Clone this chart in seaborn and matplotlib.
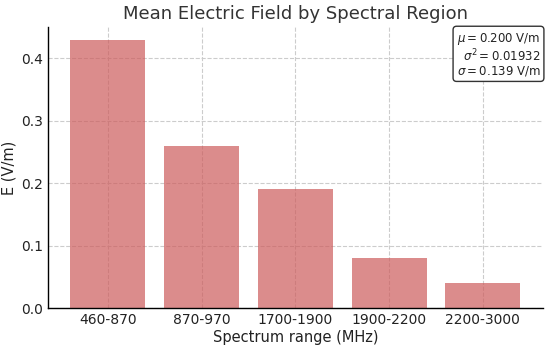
import matplotlib
matplotlib.use("Agg")
import matplotlib.pyplot as plt
import seaborn as sns
import pandas as pd

bands = ["460-870", "870-970", "1700-1900", "1900-2200", "2200-3000"]
e_field = [0.43, 0.26, 0.19, 0.08, 0.04]

df = pd.DataFrame({"band": bands, "E": e_field})
mu = df["E"].mean()
var = df["E"].var(ddof=0)
sd = var ** 0.5

sns.set_style("whitegrid", {"grid.linestyle": "--", "grid.color": "#cccccc"})
plt.rcParams["font.family"] = ["DejaVu Sans"]

fig, ax = plt.subplots(figsize=(5.5, 3.47), dpi=100)
sns.barplot(data=df, x="band", y="E", color="indianred", alpha=0.7,
            width=0.8, saturation=1, linewidth=0, ax=ax)
ax.set_xlim(-0.64, 4.64)
ax.set_ylim(0, 0.45)
ax.set_yticks([0, 0.1, 0.2, 0.3, 0.4])
ax.xaxis.grid(True, linestyle="--", color="#cccccc")
ax.yaxis.grid(True, linestyle="--", color="#cccccc")
ax.set_title("Mean Electric Field by Spectral Region", fontsize=13, color="#333333", pad=6)
ax.set_xlabel("Spectrum range (MHz)", fontsize=10.5, color="#222222", labelpad=2)
ax.set_ylabel("E (V/m)", fontsize=10.5, color="#222222", labelpad=3)
ax.tick_params(axis="both", labelsize=10, direction="in", length=3, colors="#222222")
for s in ["top", "right"]:
    ax.spines[s].set_visible(False)
for s in ["left", "bottom"]:
    ax.spines[s].set_color("black")
    ax.spines[s].set_linewidth(1)
ax.set_axisbelow(True)

txt = (rf"$\mu={mu:.3f}$ V/m" + "\n" + rf"$\sigma^2={var:.5f}$" + "\n"
       + rf"$\sigma={sd:.3f}$ V/m")
ax.text(0.995, 0.985, txt, transform=ax.transAxes, ha="right", va="top",
        fontsize=8.5, color="#222222", multialignment="right", linespacing=1.0,
        bbox=dict(boxstyle="round,pad=0.3", facecolor="white", edgecolor="#333333"))

fig.subplots_adjust(left=0.087, right=0.987, top=0.922, bottom=0.112)
plt.savefig("out.png", dpi=100)
